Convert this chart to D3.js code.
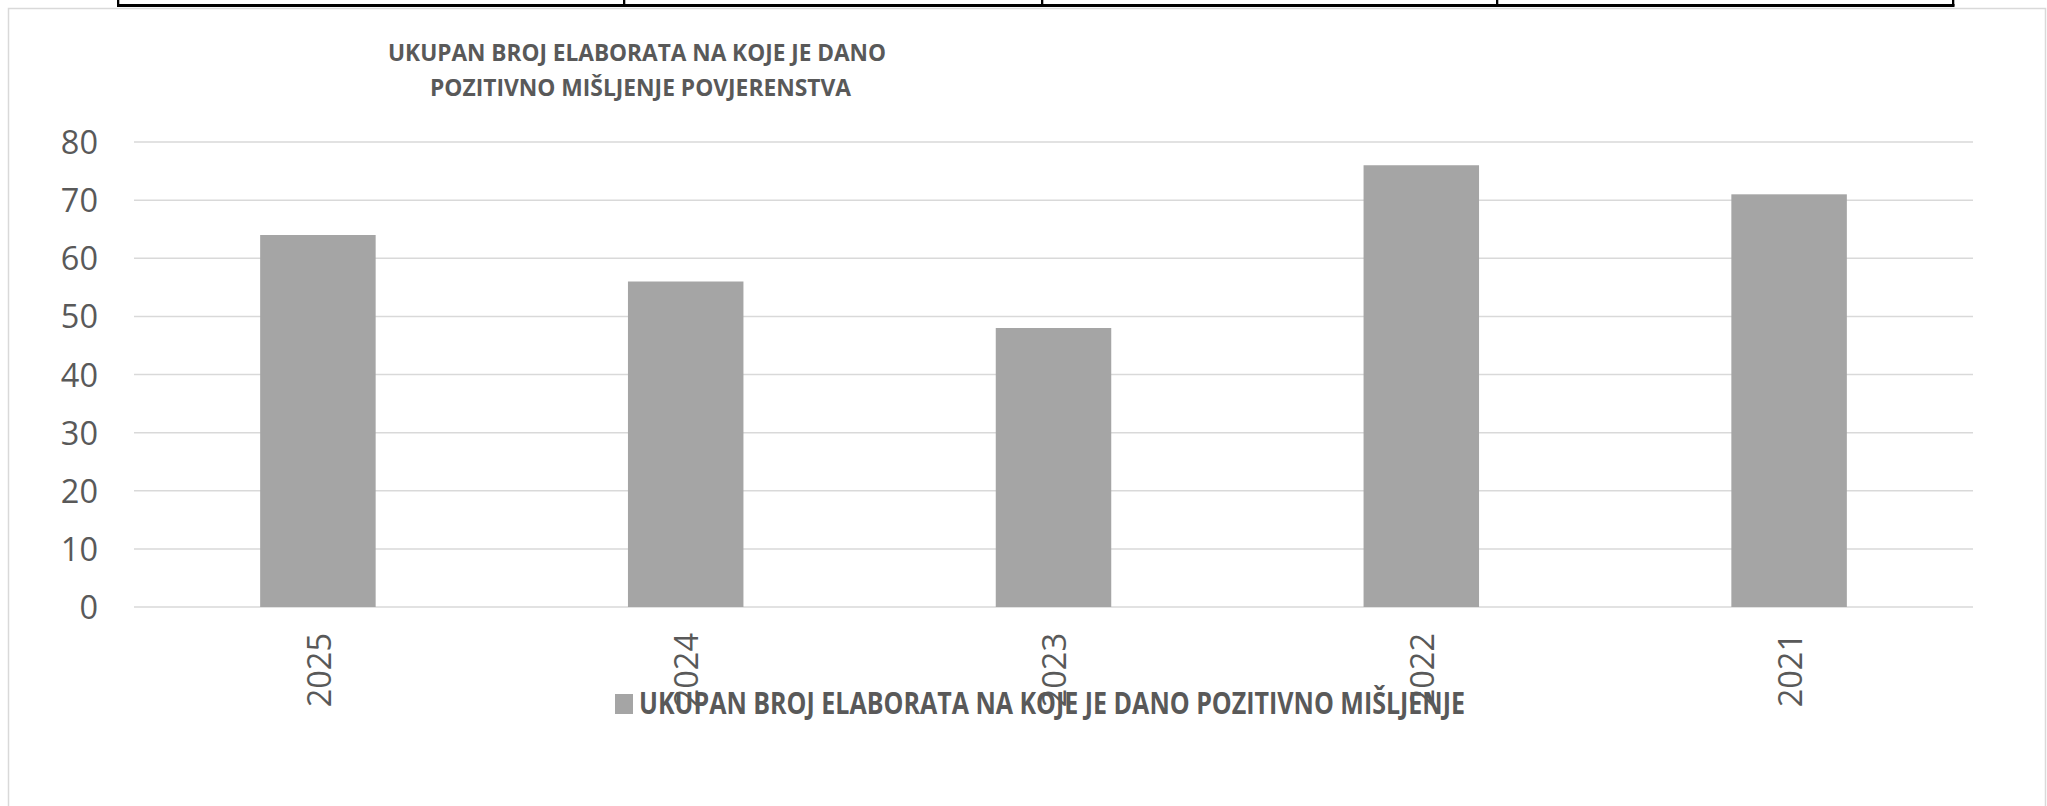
<!DOCTYPE html>
<html>
<head>
<meta charset="utf-8">
<script src="https://cdn.jsdelivr.net/npm/d3@7"></script>
<style>
  html, body { margin: 0; padding: 0; background: #ffffff; }
  svg { display: block; }
  text { font-family: "Open Sans", "Noto Sans", sans-serif; fill: #595959; }
</style>
</head>
<body>
<script>
// Number of elaborates with a positive opinion, by year
const categories = ["2025", "2024", "2023", "2022", "2021"];
const values = [64, 56, 48, 76, 71];
const yTicks = [0, 10, 20, 30, 40, 50, 60, 70, 80];
const titleLines = ["UKUPAN BROJ ELABORATA NA KOJE JE DANO", "POZITIVNO MIŠLJENJE POVJERENSTVA"];
const seriesName = "UKUPAN BROJ ELABORATA NA KOJE JE DANO POZITIVNO MIŠLJENJE";
// x positions of the table column rules above the chart
const tableRules = [118, 624, 1042, 1497, 1953];

const W = 2047, H = 806;
const svg = d3.select("body").append("svg").attr("width", W).attr("height", H);
svg.append("rect").attr("width", W).attr("height", H).attr("fill", "#ffffff");

// table edge above the chart frame
svg.append("rect").attr("x", d3.min(tableRules) - 1).attr("y", 4)
  .attr("width", d3.max(tableRules) - d3.min(tableRules) + 2.5).attr("height", 3).attr("fill", "#000");
svg.selectAll("rect.rule").data(tableRules).join("rect").attr("class", "rule")
  .attr("x", d => d - 1).attr("y", 0).attr("width", 2.3).attr("height", 6).attr("fill", "#000");

// chart frame
svg.append("rect").attr("x", 8.5).attr("y", 8.5).attr("width", 2037).attr("height", 830)
  .attr("fill", "none").attr("stroke", "#d9d9d9").attr("stroke-width", 1.5);

const x = d3.scaleBand().domain(categories).range([134, 1973])
  .paddingInner(0.686).paddingOuter(0.343);
const y = d3.scaleLinear().domain([0, 80]).range([607, 142]);

// gridlines
svg.append("g").selectAll("line").data(yTicks).join("line")
  .attr("x1", 134).attr("x2", 1973)
  .attr("y1", d => y(d)).attr("y2", d => y(d))
  .attr("stroke", "#d9d9d9").attr("stroke-width", 1.5);

// bars
svg.append("g").selectAll("rect").data(values).join("rect")
  .attr("x", (d, i) => x(categories[i]))
  .attr("y", d => y(d))
  .attr("width", x.bandwidth())
  .attr("height", d => y(0) - y(d))
  .attr("fill", "#a5a5a5");

// y axis labels
const yAxis = svg.append("g").attr("transform", "translate(98,0)")
  .call(d3.axisLeft(y).tickValues(yTicks).tickSize(0).tickPadding(0));
yAxis.select(".domain").remove();
yAxis.selectAll("text").attr("font-size", 32.5).attr("dy", "0.357em")
  .style("font-family", "'Open Sans', sans-serif").attr("fill", "#595959");

// title
const titleSpans = [
  { x0: 388, x1: 886, base: 60.7 },
  { x0: 430, x1: 851, base: 95.7 }
];
svg.append("g").selectAll("text").data(titleLines).join("text")
  .attr("x", (d, i) => titleSpans[i].x0)
  .attr("y", (d, i) => titleSpans[i].base)
  .attr("font-size", 23.8).attr("font-weight", 700)
  .attr("textLength", (d, i) => titleSpans[i].x1 - titleSpans[i].x0)
  .attr("lengthAdjust", "spacingAndGlyphs")
  .text(d => d);

// legend
const legend = svg.append("g");
legend.append("rect").attr("x", 615).attr("y", 694).attr("width", 18).attr("height", 20).attr("fill", "#a5a5a5");
legend.append("text").attr("x", 639).attr("y", 714)
  .attr("font-size", 30).attr("font-weight", 700)
  .attr("textLength", 826).attr("lengthAdjust", "spacingAndGlyphs")
  .text(seriesName);

// x axis labels, rotated (drawn over the legend)
svg.append("g").selectAll("text").data(categories).join("text")
  .attr("transform", d => `translate(${x(d) + x.bandwidth() / 2 + 1},633) rotate(-90)`)
  .attr("text-anchor", "end").attr("dy", "0.357em")
  .attr("font-size", 32.5)
  .text(d => d);
</script>
</body>
</html>
